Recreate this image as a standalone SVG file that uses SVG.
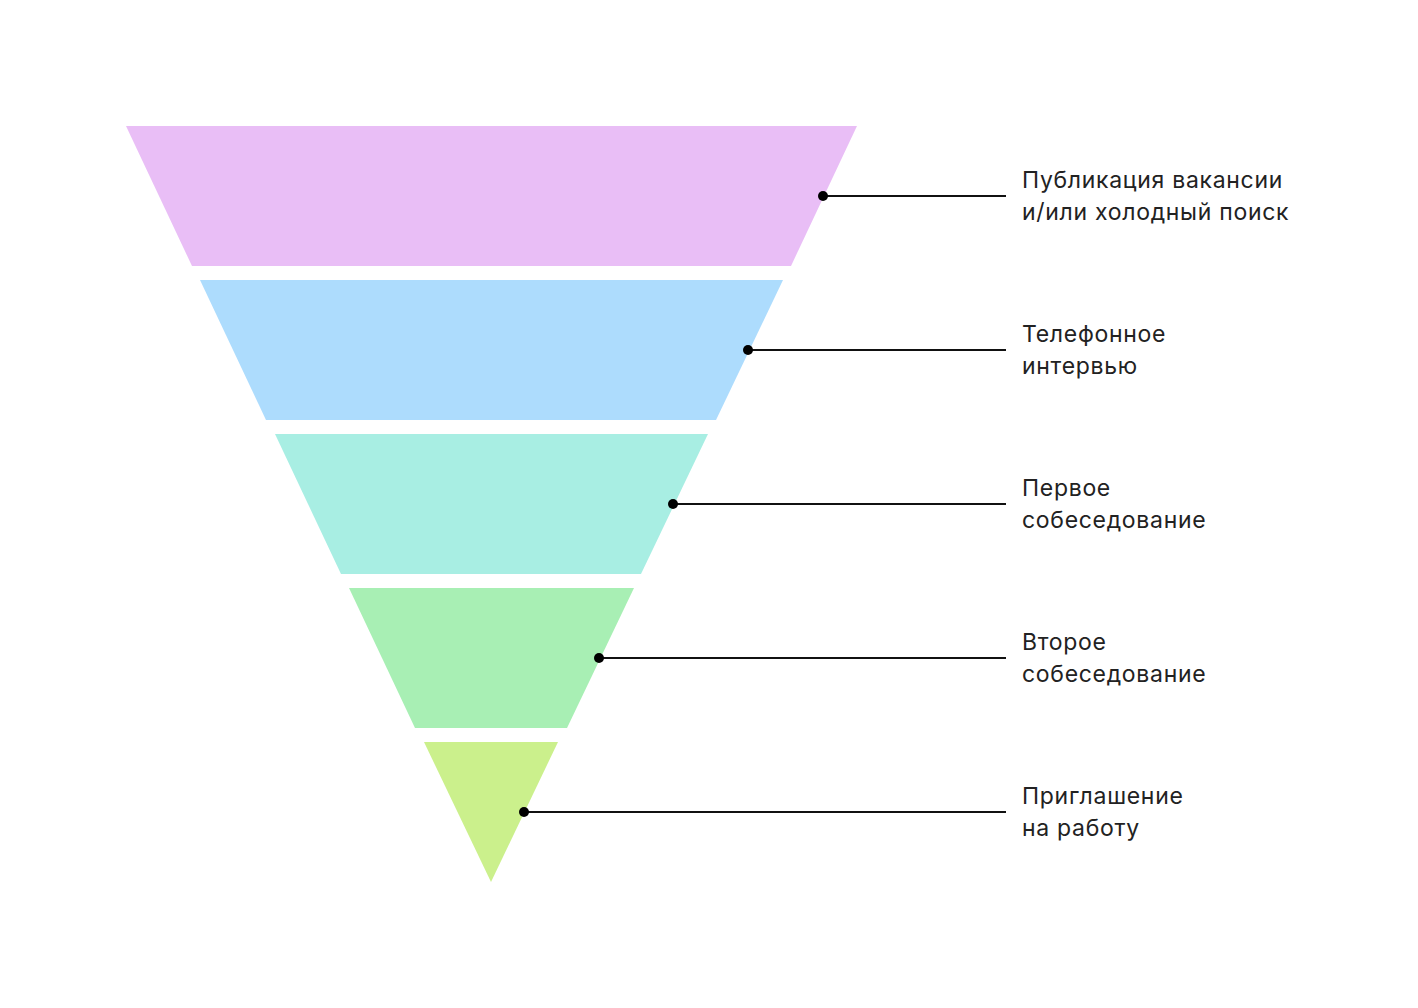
<svg xmlns="http://www.w3.org/2000/svg" width="1418" height="1008" viewBox="0 0 1418 1008">
<style>
.lbl{font-family:Inter,"Noto Sans",sans-serif;font-size:23px;letter-spacing:0.7px;fill:#222222}
.ln{stroke:#111111;stroke-width:2;fill:none}
.dot{fill:#000000}
</style>
<rect width="1418" height="1008" fill="#ffffff"/>
<g id="stage1"><polygon points="126,126 857,126 791,266 192,266" fill="#E9BEF6"/>
<text class="lbl" x="1022" y="188">Публикация вакансии</text><text class="lbl" x="1022" y="220">и/или холодный поиск</text></g>
<g id="stage2"><polygon points="200,280 783,280 716,420 266,420" fill="#ADDCFD"/>
<text class="lbl" x="1022" y="342">Телефонное</text><text class="lbl" x="1022" y="374">интервью</text></g>
<g id="stage3"><polygon points="275,434 708,434 641,574 341,574" fill="#A8EEE3"/>
<text class="lbl" x="1022" y="496">Первое</text><text class="lbl" x="1022" y="528">собеседование</text></g>
<g id="stage4"><polygon points="349,588 634,588 567,728 415,728" fill="#A8EFB4"/>
<text class="lbl" x="1022" y="650">Второе</text><text class="lbl" x="1022" y="682">собеседование</text></g>
<g id="stage5"><polygon points="424,742 558,742 491,882" fill="#CBF08C"/>
<text class="lbl" x="1022" y="804">Приглашение</text><text class="lbl" x="1022" y="836">на работу</text></g>
<g id="connectors">
<line class="ln" x1="823" y1="196" x2="1006" y2="196"/><circle class="dot" cx="823" cy="196" r="5"/>
<line class="ln" x1="748" y1="350" x2="1006" y2="350"/><circle class="dot" cx="748" cy="350" r="5"/>
<line class="ln" x1="673" y1="504" x2="1006" y2="504"/><circle class="dot" cx="673" cy="504" r="5"/>
<line class="ln" x1="599" y1="658" x2="1006" y2="658"/><circle class="dot" cx="599" cy="658" r="5"/>
<line class="ln" x1="524" y1="812" x2="1006" y2="812"/><circle class="dot" cx="524" cy="812" r="5"/>
</g>
</svg>
